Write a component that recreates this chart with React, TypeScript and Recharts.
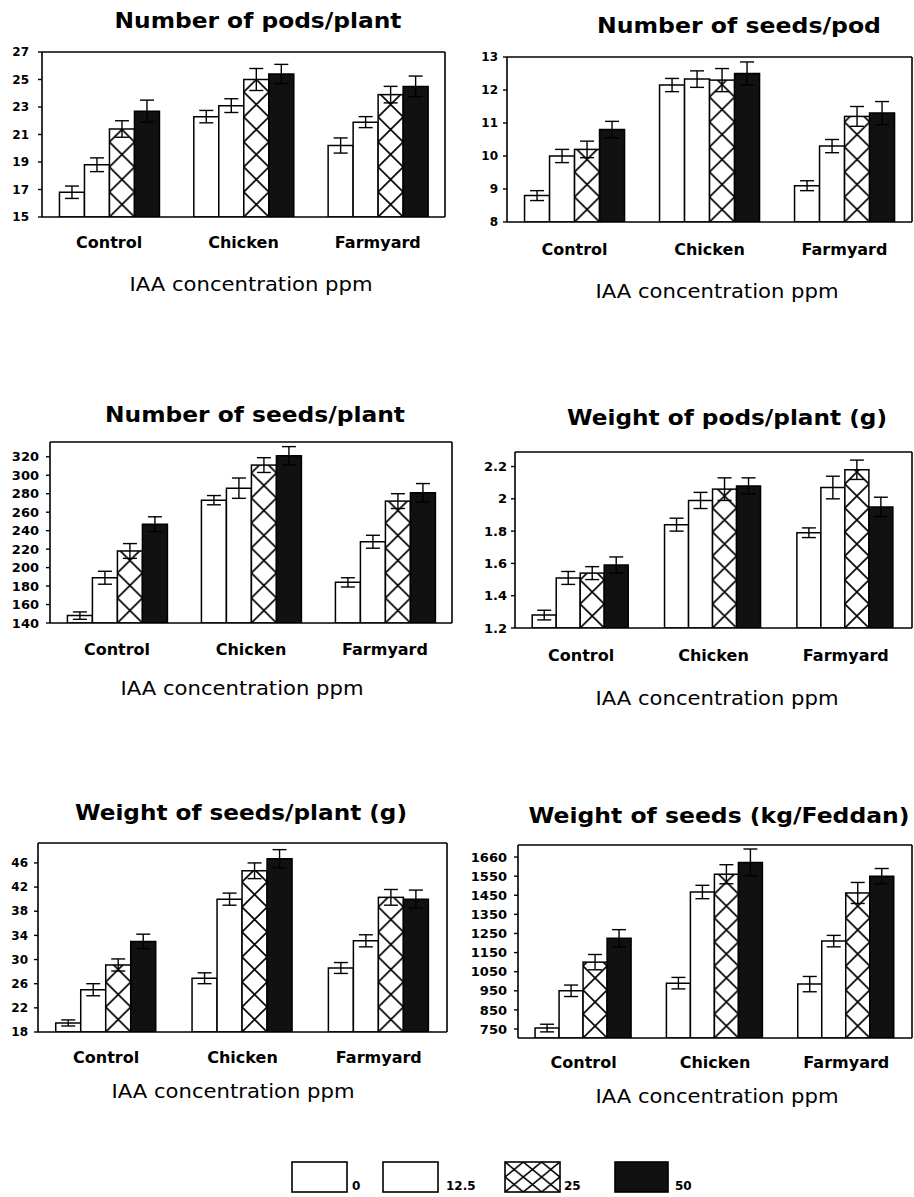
import { BarChart, Bar, XAxis, YAxis, ErrorBar } from 'recharts';

// Yield components under three manure treatments × four IAA levels.

const FONT = '"DejaVu Sans", Verdana, sans-serif';

const categories = ['Control', 'Chicken', 'Farmyard'];
const levels = ['0', '12.5', '25', '50'];

// rows = Control / Chicken / Farmyard, columns = IAA 0 / 12.5 / 25 / 50 ppm
const podsPerPlantMean = [
  [16.8, 18.8, 21.4, 22.7],
  [22.3, 23.1, 25.0, 25.4],
  [20.2, 21.9, 23.9, 24.5],
];
const podsPerPlantErr = [
  [0.45, 0.5, 0.6, 0.8],
  [0.45, 0.5, 0.8, 0.7],
  [0.55, 0.4, 0.6, 0.75],
];
const podsPerPlantTicks = [15, 17, 19, 21, 23, 25, 27];

const seedsPerPodMean = [
  [8.8, 10.0, 10.2, 10.8],
  [12.15, 12.33, 12.3, 12.5],
  [9.1, 10.3, 11.2, 11.3],
];
const seedsPerPodErr = [
  [0.15, 0.2, 0.25, 0.25],
  [0.2, 0.25, 0.35, 0.35],
  [0.15, 0.2, 0.3, 0.35],
];
const seedsPerPodTicks = [8, 9, 10, 11, 12, 13];

const seedsPerPlantMean = [
  [148, 189, 218, 247],
  [273, 286, 311, 321],
  [184, 228, 272, 281],
];
const seedsPerPlantErr = [
  [4, 7, 8, 8],
  [5, 11, 8, 10],
  [5, 7, 8, 10],
];
const seedsPerPlantTicks = [140, 160, 180, 200, 220, 240, 260, 280, 300, 320];

const podWeightMean = [
  [1.28, 1.51, 1.54, 1.59],
  [1.84, 1.99, 2.06, 2.08],
  [1.79, 2.07, 2.18, 1.95],
];
const podWeightErr = [
  [0.03, 0.04, 0.04, 0.05],
  [0.04, 0.05, 0.07, 0.05],
  [0.03, 0.07, 0.06, 0.06],
];
const podWeightTicks = [1.2, 1.4, 1.6, 1.8, 2, 2.2];

const seedWeightMean = [
  [19.5, 25.0, 29.1, 33.0],
  [26.9, 40.0, 44.7, 46.7],
  [28.6, 33.1, 40.3, 40.0],
];
const seedWeightErr = [
  [0.5, 1.0, 1.0, 1.2],
  [0.9, 1.0, 1.3, 1.5],
  [0.9, 1.0, 1.3, 1.5],
];
const seedWeightTicks = [18, 22, 26, 30, 34, 38, 42, 46];

const seedYieldMean = [
  [755, 950, 1100, 1225],
  [990, 1467, 1560, 1622],
  [985, 1210, 1462, 1550],
];
const seedYieldErr = [
  [20, 30, 40, 45],
  [30, 35, 50, 70],
  [40, 30, 55, 40],
];
const seedYieldTicks = [750, 850, 950, 1050, 1150, 1250, 1350, 1450, 1550, 1650];
const seedYieldTickLabels = ['750', '850', '950', '1050', '1150', '1250', '1350', '1450', '1550', '1660'];

const buildRows = (mean: number[][], err: number[][]) =>
  categories.map((cat, i) => ({
    cat,
    v0: mean[i][0], v1: mean[i][1], v2: mean[i][2], v3: mean[i][3],
    e0: err[i][0], e1: err[i][1], e2: err[i][2], e3: err[i][3],
  }));

type PanelDef = {
  id: string;
  title: string;
  titleX: number; titleY: number; titleW: number;
  axisX: number; axisY: number;
  mean: number[][]; err: number[][];
  ticks: number[]; tickLabels?: string[];
  domain: [number, number];
  frame: [number, number, number, number]; // left, top, right, bottom of plot box
  xMargin: number; yMargin: number; yFont: number;
};

const panels: PanelDef[] = [
  { id: 'p1', title: 'Number of pods/plant', titleX: 258, titleY: 28, titleW: 287, axisX: 251, axisY: 291,
    mean: podsPerPlantMean, err: podsPerPlantErr, ticks: podsPerPlantTicks, domain: [15, 27],
    frame: [42, 52, 445, 217], xMargin: 20, yMargin: 9, yFont: 12 },
  { id: 'p2', title: 'Number of seeds/pod', titleX: 739, titleY: 33, titleW: 284, axisX: 717, axisY: 298,
    mean: seedsPerPodMean, err: seedsPerPodErr, ticks: seedsPerPodTicks, domain: [8, 13],
    frame: [507, 57, 912, 222], xMargin: 22, yMargin: 5, yFont: 12 },
  { id: 'p3', title: 'Number of seeds/plant', titleX: 255, titleY: 422, titleW: 300, axisX: 242, axisY: 695,
    mean: seedsPerPlantMean, err: seedsPerPlantErr, ticks: seedsPerPlantTicks, domain: [140, 336],
    frame: [50, 442, 452, 623], xMargin: 21, yMargin: 7, yFont: 13 },
  { id: 'p4', title: 'Weight of pods/plant (g)', titleX: 727, titleY: 425, titleW: 320, axisX: 717, axisY: 705,
    mean: podWeightMean, err: podWeightErr, ticks: podWeightTicks, domain: [1.2, 2.29],
    frame: [515, 452, 912, 628], xMargin: 22, yMargin: 4, yFont: 13 },
  { id: 'p5', title: 'Weight of seeds/plant (g)', titleX: 241, titleY: 820, titleW: 332, axisX: 233, axisY: 1098,
    mean: seedWeightMean, err: seedWeightErr, ticks: seedWeightTicks, domain: [18, 49.3],
    frame: [38, 843, 447, 1032], xMargin: 20, yMargin: 6, yFont: 12 },
  { id: 'p6', title: 'Weight of seeds (kg/Feddan)', titleX: 719, titleY: 823, titleW: 381, axisX: 717, axisY: 1103,
    mean: seedYieldMean, err: seedYieldErr, ticks: seedYieldTicks, tickLabels: seedYieldTickLabels, domain: [703, 1713],
    frame: [518, 845, 912, 1038], xMargin: 19, yMargin: 7, yFont: 13 },
];

const line = { stroke: '#000', strokeWidth: 1.6 };

// cross-hatched bar: one X per square cell, cells anchored at the bar bottom
function HatchBar(props: any) {
  const { x, y, width, height, index, chartId } = props;
  if (!height || height <= 0) return null;
  const s = width;
  const id = `hatch-${chartId}-${index}`;
  return (
    <g>
      <defs>
        <pattern id={id} patternUnits="userSpaceOnUse" x={x} y={y + height} width={s} height={s}>
          <rect width={s} height={s} fill="#fff" />
          <path d={`M0,0L${s},${s}M${s},0L0,${s}`} stroke="#000" strokeWidth={1.6} />
        </pattern>
      </defs>
      <rect x={x} y={y} width={width} height={height} fill={`url(#${id})`} stroke="#000" strokeWidth={1.5} />
    </g>
  );
}

function Panel({ p }: { p: PanelDef }) {
  const [l, t, r, b] = p.frame;
  const yw = 58;
  const mt = 6;
  const mr = 1;
  const xh = 40;
  const W = yw + (r - l) + 1 + mr;
  const H = mt + 1 + (b - t) + xh;
  const rows = buildRows(p.mean, p.err);
  const fmt = p.tickLabels ? (v: number) => p.tickLabels![p.ticks.indexOf(v)] ?? String(v) : undefined;
  const err = (k: string) => <ErrorBar dataKey={k} width={7} stroke="#000" strokeWidth={1.4} />;
  return (
    <div style={{ position: 'absolute', left: l - yw, top: t - mt - 1 }}>
      <BarChart width={W} height={H} data={rows} margin={{ top: mt, right: mr, bottom: 0, left: 0 }}
        barCategoryGap="13%" barGap={0}>
        <XAxis dataKey="cat" height={xh} interval={0} tickLine={false} tickSize={0} tickMargin={p.xMargin}
          axisLine={line} tick={{ fill: '#000', fontSize: 16, fontWeight: 700, fontFamily: FONT }} />
        <XAxis xAxisId="top" dataKey="cat" orientation="top" height={1} tick={false} tickLine={false} axisLine={line} />
        <YAxis type="number" width={yw} domain={p.domain} ticks={p.ticks} allowDataOverflow interval={0}
          tickSize={4} tickMargin={p.yMargin} tickFormatter={fmt} axisLine={line} tickLine={{ stroke: '#000', strokeWidth: 1.4 }}
          tick={{ fill: '#000', fontSize: p.yFont, fontWeight: 700, fontFamily: FONT }} />
        <YAxis yAxisId="right" orientation="right" type="number" domain={[0, 1]} width={1} tick={false} tickLine={false} axisLine={line} />
        <Bar dataKey="v0" name={levels[0]} fill="#fff" stroke="#000" strokeWidth={1.5} isAnimationActive={false}>{err('e0')}</Bar>
        <Bar dataKey="v1" name={levels[1]} fill="#fff" stroke="#000" strokeWidth={1.5} isAnimationActive={false}>{err('e1')}</Bar>
        <Bar dataKey="v2" name={levels[2]} isAnimationActive={false}
          shape={(sp: any) => <HatchBar {...sp} chartId={p.id} />}>{err('e2')}</Bar>
        <Bar dataKey="v3" name={levels[3]} fill="#111" stroke="#000" strokeWidth={1.5} isAnimationActive={false}>{err('e3')}</Bar>
      </BarChart>
    </div>
  );
}

const legendBoxes = [
  { x: 292, w: 55, labelX: 352 },
  { x: 383, w: 55, labelX: 446 },
  { x: 505, w: 55, labelX: 564 },
  { x: 615, w: 53, labelX: 675 },
];

export default function App() {
  return (
    <div style={{ position: 'absolute', left: 0, top: 0, width: 914, height: 1197, background: '#fff', overflow: 'hidden' }}>
      {panels.map((p) => <Panel key={p.id} p={p} />)}
      <svg width={914} height={1197} style={{ position: 'absolute', left: 0, top: 0, pointerEvents: 'none' }}>
        <defs>
          <pattern id="legend-hatch" patternUnits="userSpaceOnUse" x={505} y={1162} width={18.3} height={15}>
            <path d="M0,0L18.3,15M18.3,0L0,15" stroke="#000" strokeWidth={1.6} />
          </pattern>
        </defs>
        {panels.map((p) => (
          <g key={p.id}>
            <text x={p.titleX} y={p.titleY} textAnchor="middle" fontFamily={FONT} fontWeight={700} fontSize={21}
              textLength={p.titleW} lengthAdjust="spacingAndGlyphs" fill="#000">{p.title}</text>
            <text x={p.axisX} y={p.axisY} textAnchor="middle" fontFamily={FONT} fontSize={20}
              textLength={243} lengthAdjust="spacingAndGlyphs" fill="#000">IAA concentration ppm</text>
          </g>
        ))}
        {legendBoxes.map((lb, i) => (
          <g key={levels[i]}>
            <rect x={lb.x} y={1162} width={lb.w} height={30}
              fill={i === 2 ? 'url(#legend-hatch)' : i === 3 ? '#111' : '#fff'} stroke="#000" strokeWidth={1.6} />
            <text x={lb.labelX} y={1190} fontFamily={FONT} fontWeight={700} fontSize={12} fill="#000">{levels[i]}</text>
          </g>
        ))}
      </svg>
    </div>
  );
}
